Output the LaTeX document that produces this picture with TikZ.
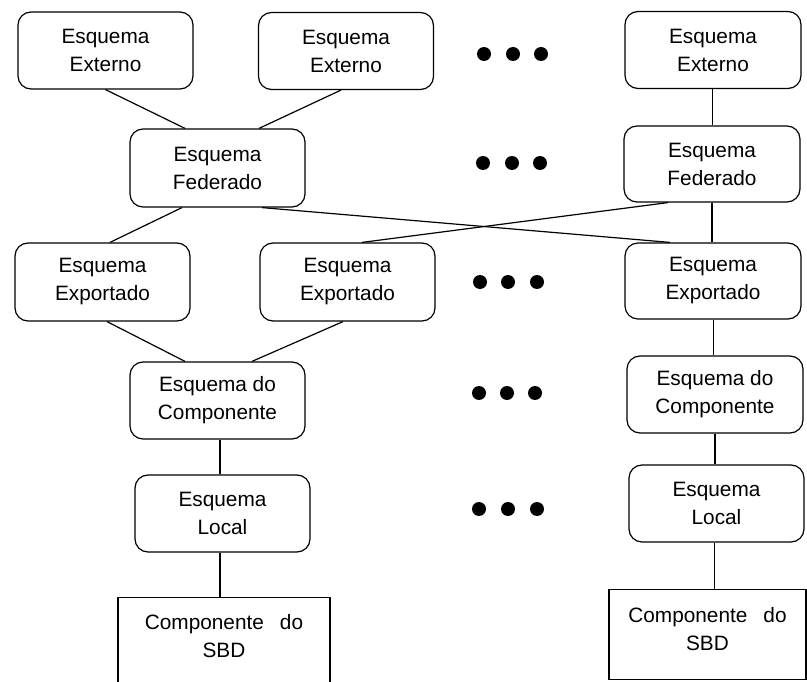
\documentclass[tikz,border=0pt]{standalone}
\usepackage{fontspec}
\setmainfont{Liberation Sans}
\usetikzlibrary{calc}

\tikzset{
  schema/.style={draw, line width=1.2pt, rounded corners=13pt, align=center,
    minimum width=175pt, minimum height=77pt, inner sep=0pt,
    font=\fontsize{20.8}{28}\selectfont},
  dbbox/.style={draw, line width=1.2pt, inner sep=0pt},
  dblabel/.style={align=center, inner sep=0pt, anchor=north,
    font=\fontsize{20.8}{28}\selectfont},
  link/.style={line width=1.2pt},
  dot/.style={fill=black}
}

\begin{document}
\begin{tikzpicture}[x=1pt,y=-1pt]
\useasboundingbox (0,0) rectangle (807,682);

% left column
\node[schema] (ee1) at (105.5,50.5) {Esquema\\Externo};
\node[schema] (ee2) at (346,51) {Esquema\\Externo};
\node[schema, minimum height=78pt] (fed1) at (217.5,168) {Esquema\\Federado};
\node[schema, minimum height=78pt] (exp1) at (102.5,282) {Esquema\\Exportado};
\node[schema, minimum height=78pt] (exp2) at (347.5,282) {Esquema\\Exportado};
\node[schema] (comp1) at (217.5,400.5) {Esquema do\\Componente};
\node[schema] (loc1) at (222.5,513.5) {Esquema\\Local};
\node[dbbox, minimum width=212pt, minimum height=110pt, anchor=north] (sbd1) at (224,597) {};
\node[dblabel] (sbd1t) at ($(sbd1.north)+(0,17)$) {Componente\hspace{16pt}do\\SBD};

% right column
\node[schema, minimum width=176pt] (ee3) at (713,50) {Esquema\\Externo};
\node[schema, minimum width=176pt, minimum height=76pt] (fed3) at (712,164) {Esquema\\Federado};
\node[schema, minimum width=176pt, minimum height=76pt] (exp3) at (713,281) {Esquema\\Exportado};
\node[schema, minimum width=176pt] (comp3) at (715,394.5) {Esquema do\\Componente};
\node[schema] (loc3) at (716.5,503.5) {Esquema\\Local};
\node[dbbox, minimum width=197pt, minimum height=90pt, anchor=north] (sbd3) at (707.5,589) {};
\node[dblabel] (sbd3t) at ($(sbd3.north)+(0,18)$) {Componente\hspace{16pt}do\\SBD};

% connectors
\draw[link] (ee1.south) -- ([xshift=-32.5pt]fed1.north);
\draw[link] ([xshift=-5pt]ee2.south) -- ([xshift=41.5pt]fed1.north);
\draw[link] ([xshift=-35.5pt]fed1.south) -- ([xshift=7.5pt]exp1.north);
\draw[link] ([xshift=44.5pt]fed1.south) -- ([xshift=-43pt]exp3.north);
\draw[link] ([xshift=-44pt]fed3.south) -- ([xshift=14.5pt]exp2.north);
\draw[link] ([xshift=4.5pt]exp1.south) -- ([xshift=-32.5pt]comp1.north);
\draw[link] ([xshift=-4.5pt]exp2.south) -- ([xshift=34.5pt]comp1.north);
\draw[link] ([xshift=2.5pt]comp1.south) -- ([xshift=2.5pt]comp1.south |- loc1.north);
\draw[link] ([xshift=-2.5pt]loc1.south) -- ([xshift=-2.5pt]loc1.south |- sbd1.north);

\draw[link] ([xshift=-0.5pt]ee3.south) -- ([xshift=-0.5pt]ee3.south |- fed3.north);
\draw[link] (fed3.south) -- (fed3.south |- exp3.north);
\draw[link] ([xshift=0.5pt]exp3.south) -- ([xshift=0.5pt]exp3.south |- comp3.north);
\draw[link] (comp3.south) -- (comp3.south |- loc3.north);
\draw[link] ([xshift=-2pt]loc3.south) -- ([xshift=-2pt]loc3.south |- sbd3.north);

% ellipsis marks between the columns
\foreach \x/\y in {484/54, 513/54, 541/54,
                   483/163, 512/163, 540/163,
                   480/282, 508/282, 537/282,
                   479/393, 507/393, 535/393,
                   479/509, 508/509, 537/509}
  \fill[dot] (\x,\y) circle (7pt);
\end{tikzpicture}
\end{document}
